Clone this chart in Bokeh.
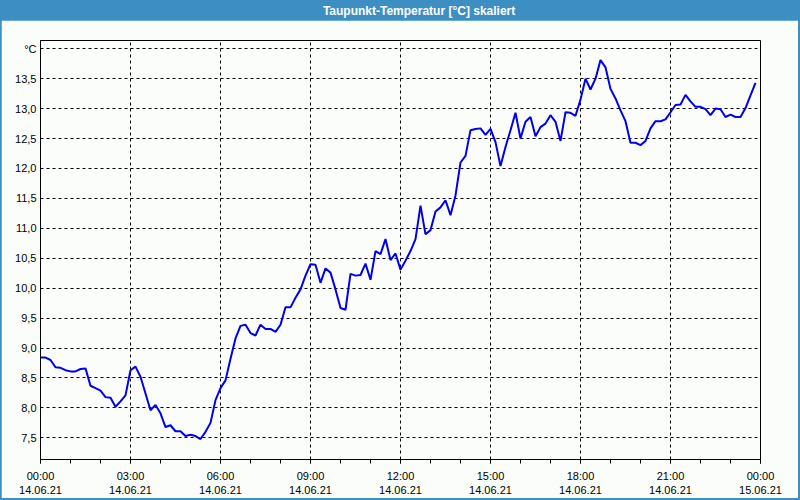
from bokeh.plotting import figure
from bokeh.layouts import column
from bokeh.models import FixedTicker, ColumnDataSource
from bokeh.core.properties import value
from bokeh.embed import file_html
from bokeh.resources import INLINE

title_text = "Taupunkt-Temperatur [°C] skaliert"

# time in minutes since 14.06.21 00:00 (10-minute samples)
step_min = 10
dew_point = [
    8.84, 8.84, 8.80, 8.68, 8.67, 8.63, 8.61, 8.61, 8.65, 8.66,
    8.37, 8.33, 8.29, 8.18, 8.17, 8.02, 8.11, 8.21, 8.63, 8.69,
    8.52, 8.24, 7.96, 8.05, 7.91, 7.68, 7.71, 7.61, 7.61, 7.53,
    7.55, 7.53, 7.48, 7.60, 7.75, 8.13, 8.33, 8.46, 8.82, 9.16,
    9.37, 9.39, 9.25, 9.21, 9.39, 9.32, 9.32, 9.27, 9.39, 9.68,
    9.68, 9.84, 9.98, 10.21, 10.40, 10.39, 10.09, 10.33, 10.26, 9.98,
    9.67, 9.64, 10.24, 10.21, 10.22, 10.41, 10.14, 10.62, 10.57, 10.82,
    10.47, 10.58, 10.31, 10.46, 10.62, 10.82, 11.38, 10.90, 10.97, 11.28,
    11.35, 11.47, 11.22, 11.55, 12.10, 12.21, 12.64, 12.66, 12.67, 12.56,
    12.66, 12.44, 12.04, 12.36, 12.64, 12.93, 12.50, 12.78, 12.86, 12.54,
    12.69, 12.75, 12.89, 12.78, 12.46, 12.94, 12.93, 12.88, 13.15, 13.50,
    13.32, 13.50, 13.81, 13.69, 13.33, 13.17, 12.97, 12.79, 12.43, 12.43,
    12.39, 12.46, 12.67, 12.79, 12.79, 12.82, 12.94, 13.06, 13.07, 13.23,
    13.12, 13.03, 13.03, 12.99, 12.89, 13.00, 12.99, 12.86, 12.90, 12.86,
    12.86, 13.01, 13.22, 13.43,
]
hours = [i * step_min / 60.0 for i in range(len(dew_point))]

x_ticks = [0, 3, 6, 9, 12, 15, 18, 21, 24]
x_tick_labels = [
    "00:00\n14.06.21", "03:00\n14.06.21", "06:00\n14.06.21",
    "09:00\n14.06.21", "12:00\n14.06.21", "15:00\n14.06.21",
    "18:00\n14.06.21", "21:00\n14.06.21", "00:00\n15.06.21",
]
y_ticks = [7.5, 8.0, 8.5, 9.0, 9.5, 10.0, 10.5, 11.0, 11.5, 12.0, 12.5, 13.0, 13.5, 14.0]
y_tick_labels = ["7,5", "8,0", "8,5", "9,0", "9,5", "10,0", "10,5", "11,0",
                 "11,5", "12,0", "12,5", "13,0", "13,5", "°C"]

BLUE_BAR = "#3d8fc3"
BG = "#fbfdfb"
FONT = "Liberation Sans"

# ---- title bar ----
pt = figure(width=800, height=20, x_range=(0, 800), y_range=(0, 20),
            toolbar_location=None, output_backend="svg",
            min_border=0, min_border_left=0, min_border_right=0,
            min_border_top=0, min_border_bottom=0)
pt.axis.visible = False
pt.grid.visible = False
pt.outline_line_color = None
pt.background_fill_color = BLUE_BAR
pt.border_fill_color = BLUE_BAR
pt.text(x=[420], y=[10], text=[title_text], text_color="white",
        text_font=value(FONT), text_font_style="bold", text_font_size="12px",
        text_align="center", text_baseline="middle")

# ---- main chart ----
p = figure(width=797, height=478, x_range=(0, 24), y_range=(7.138, 14.138),
           toolbar_location=None, output_backend="svg",
           min_border_left=39, min_border_right=38,
           min_border_top=20, min_border_bottom=38)
p.margin = (0, 2, 2, 1)
p.background_fill_color = BG
p.border_fill_color = BG
p.outline_line_color = "black"
p.outline_line_width = 1

src = ColumnDataSource(dict(h=hours, t=dew_point))
p.line("h", "t", source=src, line_color="#0000ee", line_width=2)

# x axis
xa = p.xaxis[0]
xa.ticker = FixedTicker(ticks=x_ticks, minor_ticks=list(range(0, 25)))
xa.major_label_overrides = {t: l for t, l in zip(x_ticks, x_tick_labels)}
xa.axis_line_color = "black"
xa.major_tick_line_color = "black"
xa.minor_tick_line_color = "black"
xa.major_tick_in = 0
xa.major_tick_out = 4
xa.minor_tick_in = 0
xa.minor_tick_out = 4
xa.major_label_standoff = 6
xa.major_label_text_font = FONT
xa.major_label_text_font_size = "11px"
xa.major_label_text_color = "black"

# y axis
ya = p.yaxis[0]
ya.ticker = FixedTicker(ticks=y_ticks)
ya.major_label_overrides = {t: l for t, l in zip(y_ticks, y_tick_labels)}
ya.axis_line_color = "black"
ya.major_tick_line_color = None
ya.minor_tick_line_color = None
ya.major_tick_out = 0
ya.major_tick_in = 0
ya.major_label_standoff = 4
ya.major_label_text_font = FONT
ya.major_label_text_font_size = "11px"
ya.major_label_text_color = "black"

# grids
p.xgrid.ticker = FixedTicker(ticks=[3, 6, 9, 12, 15, 18, 21])
p.ygrid.ticker = FixedTicker(ticks=y_ticks)
for g in (p.xgrid[0], p.ygrid[0]):
    g.grid_line_color = "black"
    g.grid_line_dash = "3 3"
    g.grid_line_width = 1

layout = column(pt, p, spacing=0, styles={"background-color": BLUE_BAR})

open("out.html", "w").write(file_html(layout, INLINE))
